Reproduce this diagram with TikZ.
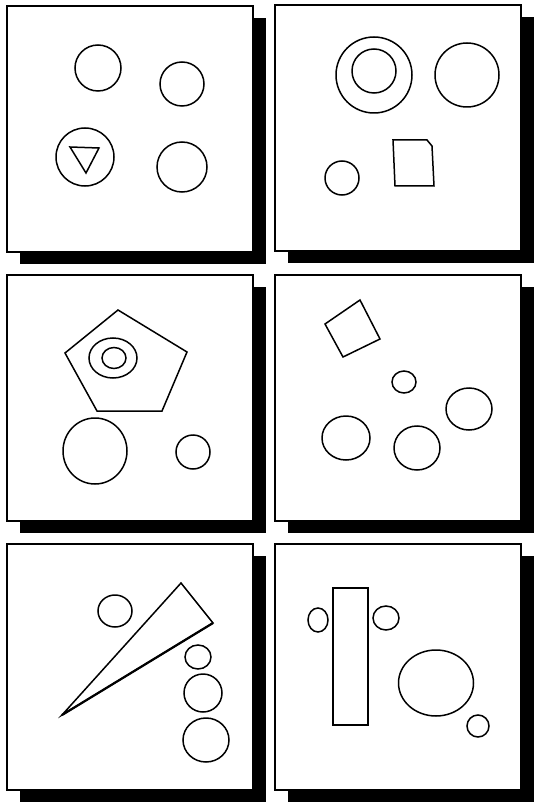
\documentclass[tikz,border=0pt]{standalone}
\usepackage{tikz}
\tikzset{
  panel/.style={draw=black,fill=white,line width=1.3pt},
  dropshade/.style={fill=black},
  outline/.style={draw=black,line width=1.5pt}
}

\begin{document}
\begin{tikzpicture}[x=1pt,y=-1pt]
  \useasboundingbox (0,0) rectangle (533,802);
  \foreach \px/\py in {7/6,275/5,7/275,275/275,7/544,275/544}{
    \fill[dropshade] (\px+13,\py+12) rectangle ++(246,246);
    \draw[panel] (\px,\py) rectangle ++(246,246);
  }

  \draw[outline] (98,68) circle (23);
  \draw[outline] (182,84) circle (22);
  \draw[outline] (85,157) circle (29);
  \draw[outline] (70,147) -- (99,148) -- (86,173) -- cycle;
  \draw[outline] (182,167) circle (25);

  \draw[outline] (374,75) circle (38);
  \draw[outline] (374,71) circle (22);
  \draw[outline] (467,75) circle (32);
  \draw[outline] (342,178) circle (17);
  \draw[outline] (393,140) -- (427,140) -- (432,146) -- (434,186) -- (395,186) -- cycle;

  \draw[outline] (118,310) -- (187,352) -- (162,411) -- (97,411) -- (65,353) -- cycle;
  \draw[outline] (113,358) ellipse (24 and 20);
  \draw[outline] (114,358) ellipse (12 and 10.5);
  \draw[outline] (95,451) ellipse (32 and 33);
  \draw[outline] (193,452) circle (17);

  \draw[outline] (325,324) -- (360,300) -- (380,339) -- (343,357) -- cycle;
  \draw[outline] (404,382) ellipse (12 and 11);
  \draw[outline] (469,409) ellipse (23 and 21);
  \draw[outline] (346,438) ellipse (24 and 22);
  \draw[outline] (417,448) ellipse (23 and 22);

  \draw[outline] (115,611) ellipse (17 and 16);
  \draw[outline] (62,715) -- (181,583) -- (213,623) -- cycle;
  \draw[line width=2.2pt] (62,715) -- (213,623);
  \draw[outline] (198,657) ellipse (13 and 12);
  \draw[outline] (203,693) circle (19);
  \draw[outline] (206,740) ellipse (23 and 22);

  \draw[outline] (333,588) rectangle (368,725);
  \draw[outline] (318,620) ellipse (10 and 12);
  \draw[outline] (386,618) ellipse (13 and 12);
  \draw[outline] (436,683) ellipse (37.5 and 33);
  \draw[outline] (478,726) circle (11);
\end{tikzpicture}
\end{document}
